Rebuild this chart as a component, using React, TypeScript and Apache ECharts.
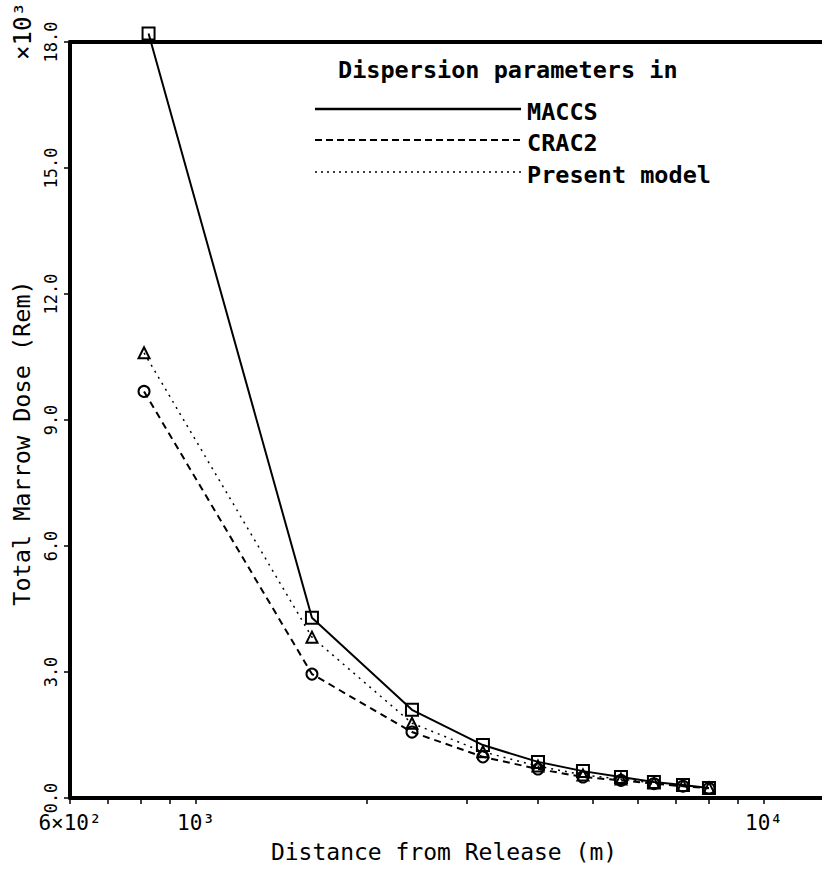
import React, { useEffect, useRef } from "react";
import * as echarts from "echarts";

const distMACCS = [825, 1600, 2400, 3200, 4000, 4800, 5600, 6400, 7200, 8000];
const doseMACCS = [18.2, 4.29, 2.1, 1.26, 0.86, 0.64, 0.5, 0.38, 0.31, 0.24];
const distCRAC2 = [810, 1600, 2400, 3200, 4000, 4800, 5600, 6400, 7200, 8000];
const doseCRAC2 = [9.68, 2.95, 1.57, 0.98, 0.69, 0.5, 0.42, 0.34, 0.28, 0.23];
const distPresent = [810, 1600, 2400, 3200, 4000, 4800, 5600, 6400, 7200, 8000];
const dosePresent = [10.6, 3.83, 1.78, 1.1, 0.76, 0.55, 0.45, 0.36, 0.3, 0.24];

const xTickValues = [600, 700, 800, 900, 1000, 2000, 3000, 4000, 5000, 6000, 7000, 8000, 9000, 10000];
const xLabelValues = [600, 1000, 10000];
const xLabelTexts: Record<number, string> = { 600: "6×10²", 1000: "10³", 10000: "10⁴" };

const legendNames = ["MACCS", "CRAC2", "Present model"];

const zip = (xs: number[], ys: number[]) => xs.map((x, i) => [x, ys[i]]);

export default function App() {
  const ref = useRef<HTMLDivElement>(null);
  useEffect(() => {
    if (!ref.current) return;
    const chart = echarts.init(ref.current, null, { renderer: "svg" });
    const mono = "DejaVu Sans Mono";
    const marker = { color: "transparent", borderColor: "#000", borderWidth: 2 };
    const legendY = [109, 140, 172];
    const legendDash: any[] = ["solid", [7, 4], [2, 4]];
    const legendW = [2.5, 2, 1.5];
    const graphic: any[] = [
      {
        type: "text",
        x: 338,
        y: 70,
        style: { text: "Dispersion parameters in", font: `bold 23.5px ${mono}`, fill: "#000", align: "left", verticalAlign: "middle" },
      },
      {
        type: "text",
        x: 23,
        y: 31,
        rotation: Math.PI / 2,
        style: { text: "×10³", font: `24px ${mono}`, fill: "#000", align: "center", verticalAlign: "middle" },
      },
      {
        type: "text",
        x: 22,
        y: 443,
        rotation: Math.PI / 2,
        style: { text: "Total Marrow Dose (Rem)", font: `23.5px ${mono}`, fill: "#000", align: "center", verticalAlign: "middle" },
      },
      {
        type: "text",
        x: 444,
        y: 852,
        style: { text: "Distance from Release (m)", font: `23px ${mono}`, fill: "#000", align: "center", verticalAlign: "middle" },
      },
    ];
    legendNames.forEach((name, i) => {
      graphic.push({
        type: "line",
        shape: { x1: 315, y1: legendY[i], x2: 521, y2: legendY[i] },
        style: { stroke: "#000", lineWidth: legendW[i], lineDash: legendDash[i] },
      });
      graphic.push({
        type: "text",
        x: 527,
        y: legendY[i] + 3,
        style: { text: name, font: `bold 23.5px ${mono}`, fill: "#000", align: "left", verticalAlign: "middle" },
      });
    });

    chart.setOption({
      animation: false,
      backgroundColor: "#fff",
      grid: { left: 70, right: 0, top: 42, bottom: 71, containLabel: false },
      xAxis: [
        {
          type: "log",
          logBase: 10,
          min: 600,
          max: 12650,
          position: "bottom",
          axisLine: { show: true, lineStyle: { color: "#000", width: 4 } },
          axisTick: { show: true, inside: false, length: 6, customValues: xTickValues, lineStyle: { color: "#000", width: 1.5 } },
          axisLabel: {
            show: true,
            customValues: xLabelValues,
            margin: 14,
            color: "#000",
            fontFamily: mono,
            fontSize: 21,
            formatter: (v: number) => xLabelTexts[Math.round(v)] ?? "",
          },
          splitLine: { show: false },
          minorTick: { show: false },
        },
        {
          type: "log",
          logBase: 10,
          min: 600,
          max: 12650,
          position: "top",
          axisLine: { show: true, lineStyle: { color: "#000", width: 4 } },
          axisTick: { show: false },
          axisLabel: { show: false },
          splitLine: { show: false },
        },
      ],
      yAxis: {
        type: "value",
        min: 0,
        max: 18,
        interval: 3,
        axisLine: { show: true, lineStyle: { color: "#000", width: 4 } },
        axisTick: { show: true, inside: false, length: 6, lineStyle: { color: "#000", width: 1.5 } },
        axisLabel: {
          rotate: 90,
          margin: 11,
          color: "#000",
          fontFamily: mono,
          fontSize: 17,
          formatter: (v: number) => v.toFixed(1),
        },
        splitLine: { show: false },
      },
      series: [
        {
          name: "MACCS",
          type: "line",
          xAxisIndex: 0,
          data: zip(distMACCS, doseMACCS),
          symbol: "rect",
          symbolSize: 12,
          clip: false,
          itemStyle: marker,
          lineStyle: { color: "#000", width: 2, type: "solid" },
        },
        {
          name: "CRAC2",
          type: "line",
          xAxisIndex: 0,
          data: zip(distCRAC2, doseCRAC2),
          symbol: "circle",
          symbolSize: 11,
          clip: false,
          itemStyle: marker,
          lineStyle: { color: "#000", width: 2, type: [7, 5] },
        },
        {
          name: "Present model",
          type: "line",
          xAxisIndex: 0,
          data: zip(distPresent, dosePresent),
          symbol: "triangle",
          symbolSize: 11,
          clip: false,
          itemStyle: marker,
          lineStyle: { color: "#000", width: 1.5, type: [2, 5] },
        },
      ],
      graphic,
    });
    return () => chart.dispose();
  }, []);
  return <div ref={ref} style={{ width: 822, height: 869, position: "absolute", left: 0, top: 0 }} />;
}
